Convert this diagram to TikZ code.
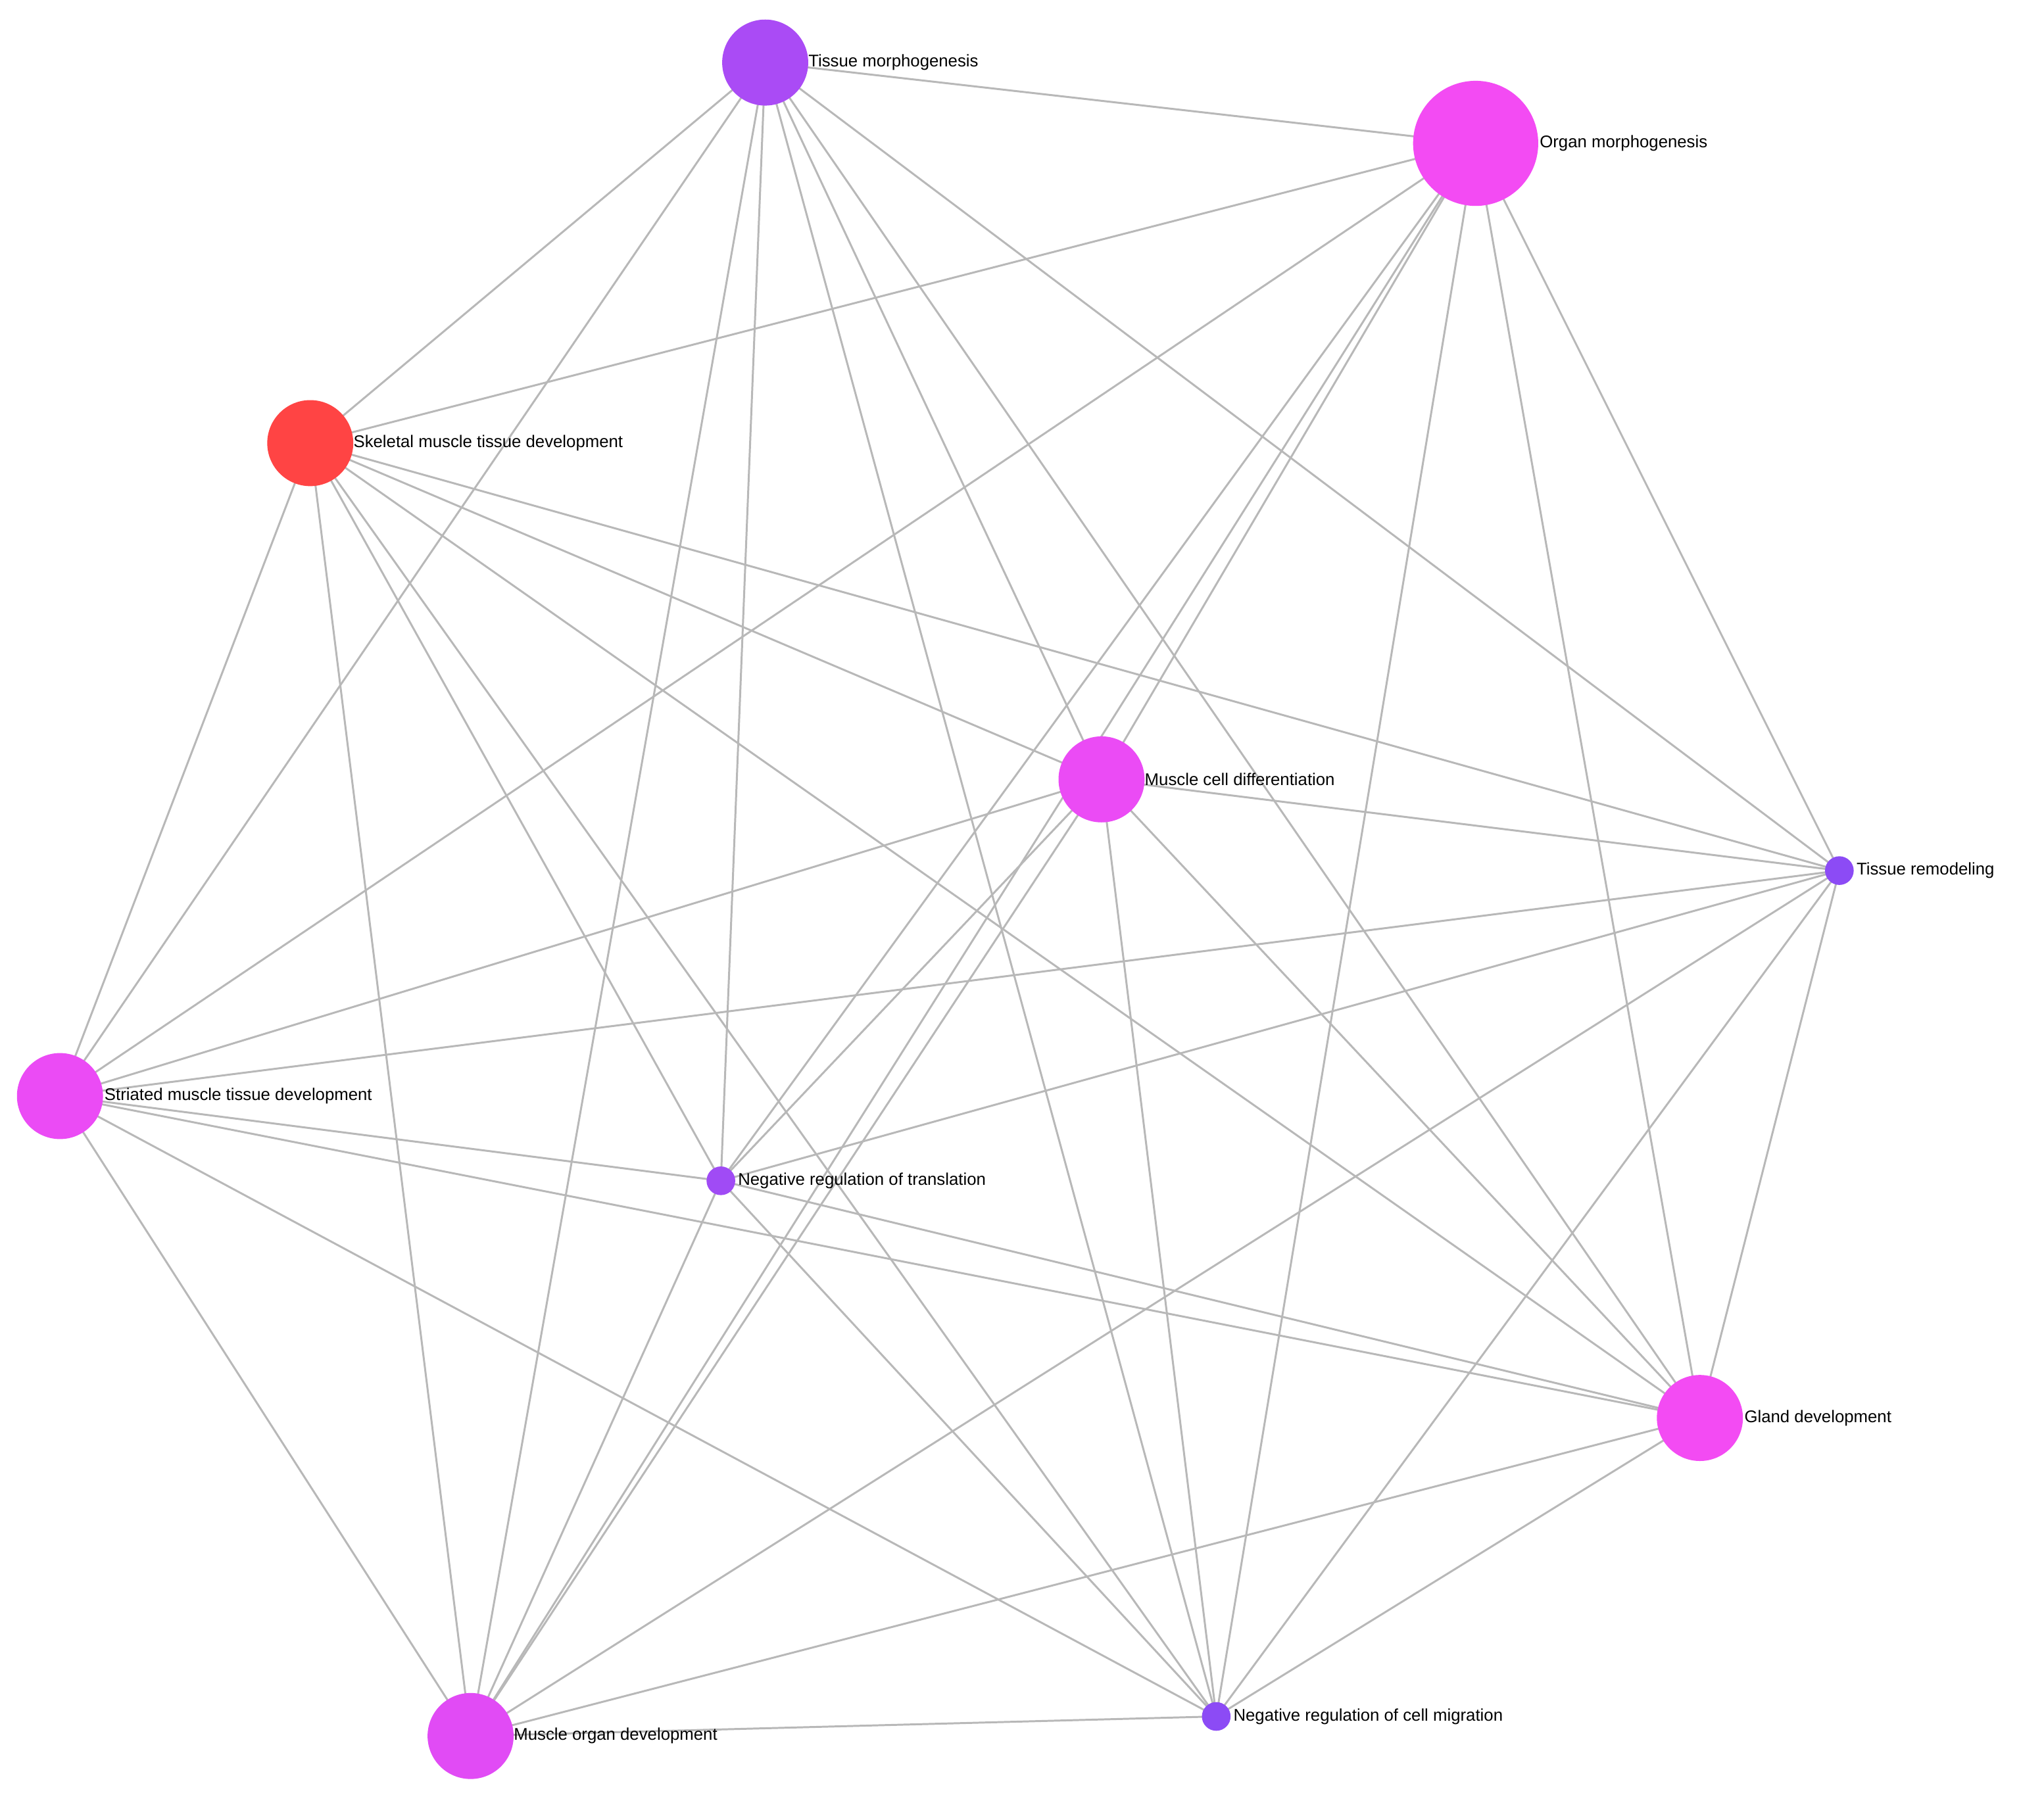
\documentclass[tikz,border=0pt]{standalone}
\usepackage{fontspec}
\setmainfont{Liberation Sans}
\begin{document}
\begin{tikzpicture}[x=1pt,y=-1pt,
  n/.style={circle,inner sep=0pt,minimum size=#1},
  lab/.style={anchor=west,inner sep=0pt,font=\fontsize{13}{15}\selectfont},
  e/.style={draw=black!28,line width=1.5pt}]
\useasboundingbox[fill=white] (0,0) rectangle (1568,1377);
\coordinate (TM) at (587,48);
\coordinate (OM) at (1132,110);
\coordinate (SK) at (238,340);
\coordinate (MCD) at (845,598);
\coordinate (TR) at (1411,668);
\coordinate (ST) at (46,841);
\coordinate (NRT) at (553,906);
\coordinate (GD) at (1304,1088);
\coordinate (MOD) at (361,1332);
\coordinate (NRCM) at (933,1317);
\foreach \a/\b in {TM/OM,TM/SK,TM/MCD,TM/TR,TM/ST,TM/NRT,TM/GD,TM/MOD,TM/NRCM,
 OM/SK,OM/MCD,OM/TR,OM/ST,OM/NRT,OM/GD,OM/MOD,OM/NRCM,
 SK/MCD,SK/TR,SK/ST,SK/NRT,SK/GD,SK/MOD,SK/NRCM,
 MCD/TR,MCD/ST,MCD/NRT,MCD/GD,MCD/MOD,MCD/NRCM,
 TR/ST,TR/NRT,TR/GD,TR/MOD,TR/NRCM,
 ST/NRT,ST/GD,ST/MOD,ST/NRCM,
 NRT/GD,NRT/MOD,NRT/NRCM,
 GD/MOD,GD/NRCM,MOD/NRCM}
  \draw[e] (\a) -- (\b);
\node[n=66pt,fill={rgb,255:red,170;green,75;blue,245}] (tm) at (TM) {};
\node[n=96pt,fill={rgb,255:red,243;green,75;blue,243}] (om) at (OM) {};
\node[n=66pt,fill={rgb,255:red,255;green,68;blue,68}] (sk) at (SK) {};
\node[n=66pt,fill={rgb,255:red,235;green,75;blue,245}] (mcd) at (MCD) {};
\node[n=22pt,fill={rgb,255:red,140;green,75;blue,245}] (tr) at (TR) {};
\node[n=66pt,fill={rgb,255:red,235;green,75;blue,245}] (st) at (ST) {};
\node[n=22pt,fill={rgb,255:red,160;green,75;blue,245}] (nrt) at (NRT) {};
\node[n=66pt,fill={rgb,255:red,243;green,75;blue,243}] (gd) at (GD) {};
\node[n=66pt,fill={rgb,255:red,225;green,75;blue,245}] (mod) at (MOD) {};
\node[n=22pt,fill={rgb,255:red,140;green,75;blue,245}] (nrcm) at (NRCM) {};
\node[lab] (ltm) at (620,48) {Tissue morphogenesis};
\node[lab] (lom) at (1181,110) {Organ morphogenesis};
\node[lab] (lsk) at (271,340) {Skeletal muscle tissue development};
\node[lab] (lmcd) at (878,598) {Muscle cell differentiation};
\node[lab] (ltr) at (1424,668) {Tissue remodeling};
\node[lab] (lst) at (80,841) {Striated muscle tissue development};
\node[lab] (lnrt) at (566,906) {Negative regulation of translation};
\node[lab] (lgd) at (1338,1088) {Gland development};
\node[lab] (lmod) at (394,1332) {Muscle organ development};
\node[lab] (lnrcm) at (946,1317) {Negative regulation of cell migration};
\end{tikzpicture}
\end{document}
